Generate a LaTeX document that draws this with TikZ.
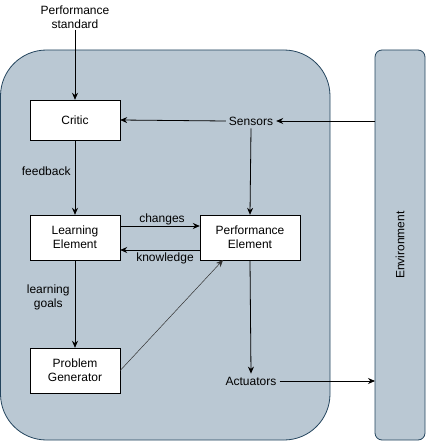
\documentclass[tikz,border=0pt]{standalone}
\usepackage{fontspec}
\setmainfont{Liberation Sans}
\usetikzlibrary{arrows.meta}
\definecolor{agentfill}{HTML}{BAC8D3}
\definecolor{agentline}{HTML}{23445D}
\begin{document}
\begin{tikzpicture}[x=1pt,y=-1pt,
  txt/.style={font=\fontsize{12}{14}\selectfont, align=center, inner sep=1pt},
  box/.style={draw=black, fill=white, minimum width=90pt, txt},
  arr/.style={-{Stealth[length=7pt,width=6pt]}, line width=0.8pt},
  lbl/.style={txt}]
\useasboundingbox (0,0) rectangle (426,441);
% agent container
\draw[fill=agentfill, draw=agentline, line width=0.8pt, rounded corners=46pt] (0.5,50) rectangle (330,440);
% environment
\node[draw=agentline, fill=agentfill, line width=0.8pt, rounded corners=7pt, minimum width=50pt, minimum height=390pt, inner sep=0pt] (env) at (400,245) {};
\node[txt, rotate=90] (envt) at (400,245) {Environment};
% boxes
\node[box, minimum height=40pt] (critic) at (75,120) {Critic};
\node[box, minimum height=45pt] (learn) at (75,237.5) {Learning\\Element};
\node[box, minimum height=45pt, minimum width=100pt] (perf) at (250,237.5) {Performance\\Element};
\node[box, minimum height=45pt] (gen) at (75,370.5) {Problem\\Generator};
% texts
\node[txt] (std) at (75,17) {Performance\\standard};
\node[txt, inner sep=3pt] (sens) at (251,121) {Sensors};
\node[txt, inner sep=3pt] (act) at (251,381) {Actuators};
% coordinates
\coordinate (envS) at (375,121);
\coordinate (envA) at (375,381);
\coordinate (perfIn) at (223,260);
% connectors
\draw[arr] (std.south -| critic.north) -- (critic.north);
\draw[arr] (sens.west) -- (critic.east);
\draw[arr] (envS) -- (sens.east);
\draw[arr] (sens.south) -- (perf.north);
\draw[arr] (critic.south) -- node[lbl, left, xshift=-3pt, pos=0.42] {feedback} (learn.north);
\draw[arr] ([yshift=11.5pt]learn.east) -- node[lbl, above, xshift=2pt] {changes} ([yshift=11.5pt]perf.west);
\draw[arr] ([yshift=-12.5pt]perf.west) -- node[lbl, below, yshift=-1pt, xshift=5pt] {knowledge} ([yshift=-12.5pt]learn.east);
\draw[arr] (learn.south) -- node[lbl, left, xshift=-4pt, pos=0.42] {learning\\goals} (gen.north);
\draw[-{Stealth[length=7pt,width=6pt]}, line width=0.5pt, draw=black!80] (gen.east) -- (perfIn);
\draw[arr] (perf.south) -- (act.north);
\draw[arr] (act.east) -- (envA);
\end{tikzpicture}
\end{document}
